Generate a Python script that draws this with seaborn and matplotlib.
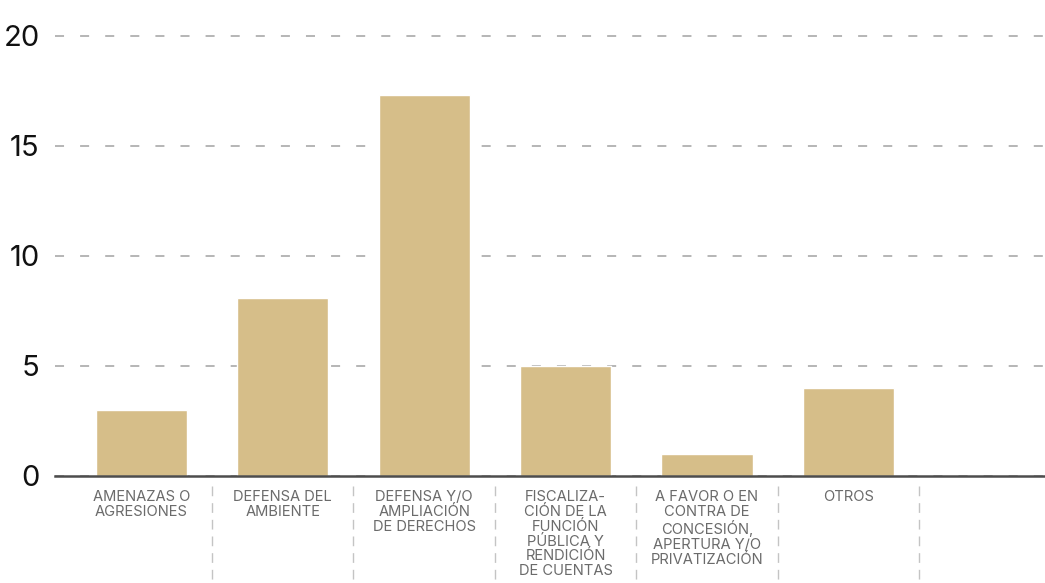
import matplotlib
matplotlib.use("Agg")
import matplotlib.pyplot as plt
import matplotlib.transforms as mtransforms
import pandas as pd
import seaborn as sns

# Datos
categorias = [
    "AMENAZAS O\nAGRESIONES",
    "DEFENSA DEL\nAMBIENTE",
    "DEFENSA Y/O\nAMPLIACIÓN\nDE DERECHOS",
    "FISCALIZA-\nCIÓN DE LA\nFUNCIÓN\nPÚBLICA Y\nRENDICIÓN\nDE CUENTAS",
    "A FAVOR O EN\nCONTRA DE\nCONCESIÓN,\nAPERTURA Y/O\nPRIVATIZACIÓN",
    "OTROS",
]
valores = [3, 8.1, 17.3, 5, 1, 4]
ticks_y = [0, 5, 10, 15, 20]

df = pd.DataFrame({"categoria": categorias, "valor": valores})

sns.set_theme(style="white")
plt.rcParams["font.family"] = ["Inter", "DejaVu Sans"]

fig = plt.figure(figsize=(10.45, 5.83), dpi=100)
ax = fig.add_axes([55 / 1045, 107 / 583, 990 / 1045, 455.4 / 583])

sns.barplot(data=df, x="categoria", y="valor", color="#d6be89",
            width=0.645, saturation=1, ax=ax)

ax.set_xlim(-0.61, 6.39)
ax.set_ylim(0, 20.7)
ax.set_yticks(ticks_y)
ax.set_yticklabels([str(t) for t in ticks_y], fontsize=21, color="#111111")
ax.set_xlabel("")
ax.set_ylabel("")

# rejilla punteada
ax.yaxis.grid(True, color="#b0b0b0", linewidth=1.3, dashes=(5, 8.9))
ax.xaxis.grid(False)
ax.set_axisbelow(True)

for lado in ["top", "right", "left"]:
    ax.spines[lado].set_visible(False)
ax.spines["bottom"].set_color("#4d4d4d")
ax.spines["bottom"].set_linewidth(1.8)

ax.tick_params(axis="y", length=0, pad=11)
ax.tick_params(axis="x", length=0, pad=10)
for lbl in ax.get_xticklabels():
    lbl.set_fontsize(10.6)
    lbl.set_color("#6b6b6b")
    lbl.set_linespacing(1.08)

# separadores verticales entre categorías
trans = mtransforms.blended_transform_factory(ax.transData, ax.transAxes)
for i in range(len(categorias)):
    ax.plot([i + 0.5, i + 0.5], [-0.022, -0.24], transform=trans,
            color="#c4c4c4", linewidth=1, dashes=(7, 5), clip_on=False)

fig.savefig("out.png", dpi=100)
